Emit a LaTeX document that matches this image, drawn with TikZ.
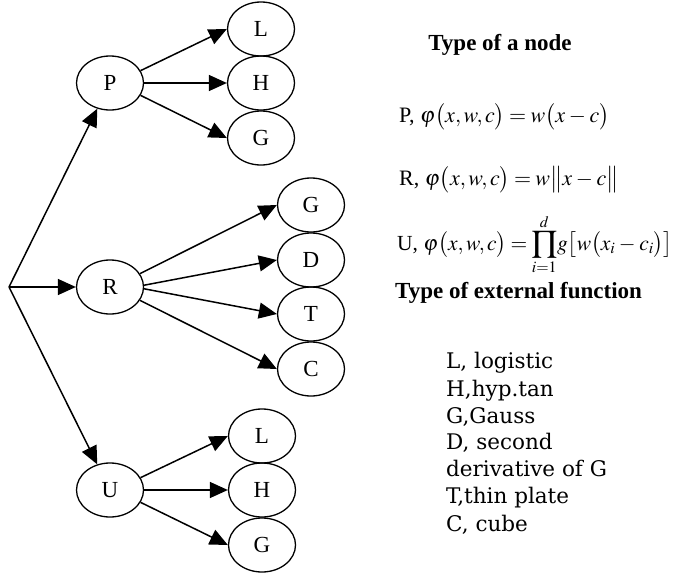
\documentclass[tikz,border=0pt]{standalone}
\usepackage{mathptmx}
\usepackage{fontspec}
\setmainfont{Liberation Serif}
\newfontfamily\listfont{DejaVu Serif}
\usetikzlibrary{shapes.geometric,arrows.meta}
\thickmuskip=3.5mu
\medmuskip=3mu
\begin{document}
\begin{tikzpicture}[x=1pt,y=-1pt,
  nd/.style={draw, ellipse, line width=1.3pt, minimum width=67pt, minimum height=54pt, inner sep=0pt, font=\fontsize{23}{27}\selectfont},
  arr/.style={line width=1.5pt, -{Triangle[length=18pt,width=16pt]}},
  hdr/.style={font=\fontsize{23}{27}\selectfont\bfseries, inner sep=0pt},
  eq/.style={font=\fontsize{22}{26}\selectfont, inner sep=0pt, anchor=base west},
  lst/.style={font=\listfont\fontsize{21.5}{26}\selectfont, inner sep=0pt, anchor=base west}]
\useasboundingbox (0,0) rectangle (678,576);
% nodes
\node[nd] (P) at (110,83) {P};
\node[nd] (L1) at (261,29) {L};
\node[nd] (H1) at (261,83) {H};
\node[nd] (G1) at (261,138) {G};
\node[nd] (R) at (110,287) {R};
\node[nd] (G2) at (311,205) {G};
\node[nd] (D) at (311,260) {D};
\node[nd] (T) at (311,314) {T};
\node[nd] (C) at (311,369) {C};
\node[nd] (U) at (110,490) {U};
\node[nd] (L3) at (262,436) {L};
\node[nd] (H3) at (262,490) {H};
\node[nd] (G3) at (262,545) {G};
\coordinate (root) at (9,287);
% connectors
\draw[arr] (root) -- (P);
\draw[arr] (root) -- (R);
\draw[arr] (root) -- (U);
\draw[arr] (P.22) -- (L1.west);
\draw[arr] (P.east) -- (H1.west);
\draw[arr] (P.-22) -- (G1.west);
\draw[arr] (R.24) -- (G2.west);
\draw[arr] (R.3) -- (D.west);
\draw[arr] (R.-3) -- (T.west);
\draw[arr] (R.-24) -- (C.west);
\draw[arr] (U.22) -- (L3.west);
\draw[arr] (U.east) -- (H3.west);
\draw[arr] (U.-22) -- (G3.west);
% texts
\node[hdr, anchor=base] (h1) at (500,50) {Type of a node};
\node[eq] (fP) at (399,122) {P, $\varphi\bigl(x, w, c\bigr) = w\bigl(x - c\bigr)$};
\node[eq] (fR) at (399,185) {R, $\varphi\bigl(x, w, c\bigr) = w\bigl\|x - c\bigr\|$};
\node[eq, font=\fontsize{21.5}{26}\selectfont] (fU) at (397,250) {U, $\displaystyle\varphi\bigl(x, w, c\bigr) = \prod_{i=1}^{d}\mkern-2mu g\bigl[w\bigl(x_i - c_i\bigr)\bigr]$};
\node[hdr, anchor=base west] (h2) at (395,298) {Type of external function};
\node[lst] (l1) at (446,368) {L, logistic};
\node[lst] (l2) at (446,396) {H,hyp.tan};
\node[lst] (l3) at (446,423) {G,Gauss};
\node[lst] (l4) at (446,449) {D, second};
\node[lst] (l5) at (446,476) {derivative of G};
\node[lst] (l6) at (446,503) {T,thin plate};
\node[lst] (l7) at (446,531) {C, cube};
\end{tikzpicture}
\end{document}
